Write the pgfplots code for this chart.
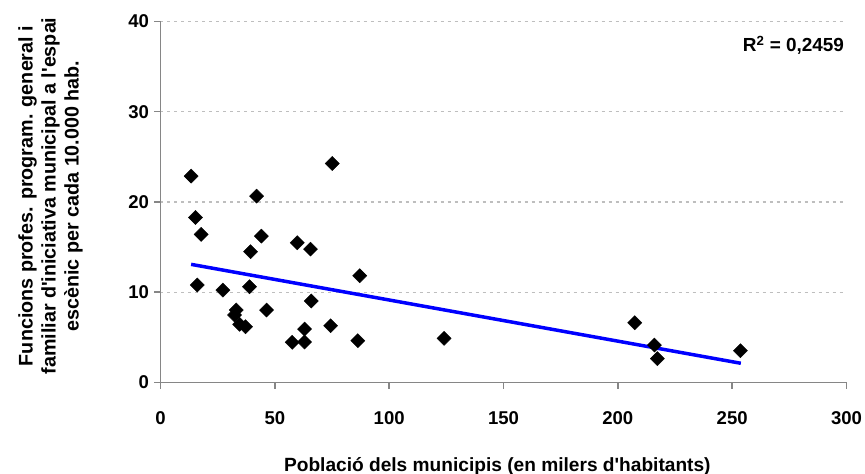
\documentclass[border=0pt]{standalone}
\usepackage{pgfplots}
\pgfplotsset{compat=1.18}
\usepackage{fontspec}
\setmainfont{Liberation Sans}
\definecolor{gridgray}{RGB}{190,190,190}
\definecolor{axisgray}{RGB}{134,134,134}
\begin{document}
\begin{tikzpicture}
% page = reference frame, axis box lower left at (0,0)
\path[use as bounding box] (-160.5bp,-91.5bp) rectangle (704.5bp,382.5bp);

\begin{axis}[
    at={(0,0)}, anchor=south west,
    scale only axis,
    width=686bp,
    height=361bp,
    xmin=0, xmax=300,
    ymin=0, ymax=40,
    xtick={0,50,...,300},
    ytick={0,10,...,40},
    axis x line*=bottom,
    axis y line*=left,
    axis line style={-, draw=axisgray, line width=1.5bp},
    tick align=outside,
    major tick length=6bp,
    tick style={draw=axisgray, line width=1.5bp},
    ymajorgrids,
    grid style={draw=gridgray, line width=1.3bp, dash pattern=on 3bp off 4bp},
    ticklabel style={font=\fontsize{18.6}{20}\selectfont\bfseries},
    /pgf/number format/assume math mode=true,
    xticklabel style={anchor=center, yshift=-29.5bp},
    yticklabel style={xshift=-2bp},
    clip=false,
]
\addplot[only marks, mark=square*, mark size=5bp,
    mark options={rotate=45, fill=black, draw=black}] table {
x y
13.4 22.87
15.3 18.29
17.8 16.41
16.1 10.80
27.3 10.24
33.1 8.03
32.4 7.48
34.6 6.45
37.2 6.18
38.9 10.61
39.4 14.49
42.0 20.65
44.1 16.22
46.4 8.03
57.6 4.45
59.8 15.48
63.0 5.92
63.0 4.49
65.6 14.78
65.9 9.03
75.1 24.27
74.4 6.29
86.3 4.63
87.1 11.83
124.0 4.89
207.4 6.62
216.0 4.15
217.3 2.64
253.6 3.52
};
% linear trend line
\addplot[color=blue, line width=3.5bp] coordinates {
    (13.4, 13.09) (253.8, 2.13)
};

\node[anchor=base east, font=\fontsize{19}{21}\selectfont\bfseries]
    at ([xshift=1bp, yshift=-30.2bp]rel axis cs:1,1) {R\textsuperscript{2} = 0,2459};
\node[anchor=base, font=\fontsize{19.2}{21}\selectfont\bfseries]
    at ([yshift=-89bp]rel axis cs:0.491,0) {Població dels municipis (en milers d\textquotesingle habitants)};
\node[rotate=90, align=center, font=\fontsize{19.8}{23}\selectfont\bfseries]
    at ([xshift=-110bp]rel axis cs:0,0.5166)
    {Funcions profes. program. general i\\familiar d\textquotesingle iniciativa municipal a l\textquotesingle espai\\escènic per cada 10.000 hab.};
\end{axis}
\end{tikzpicture}
\end{document}
